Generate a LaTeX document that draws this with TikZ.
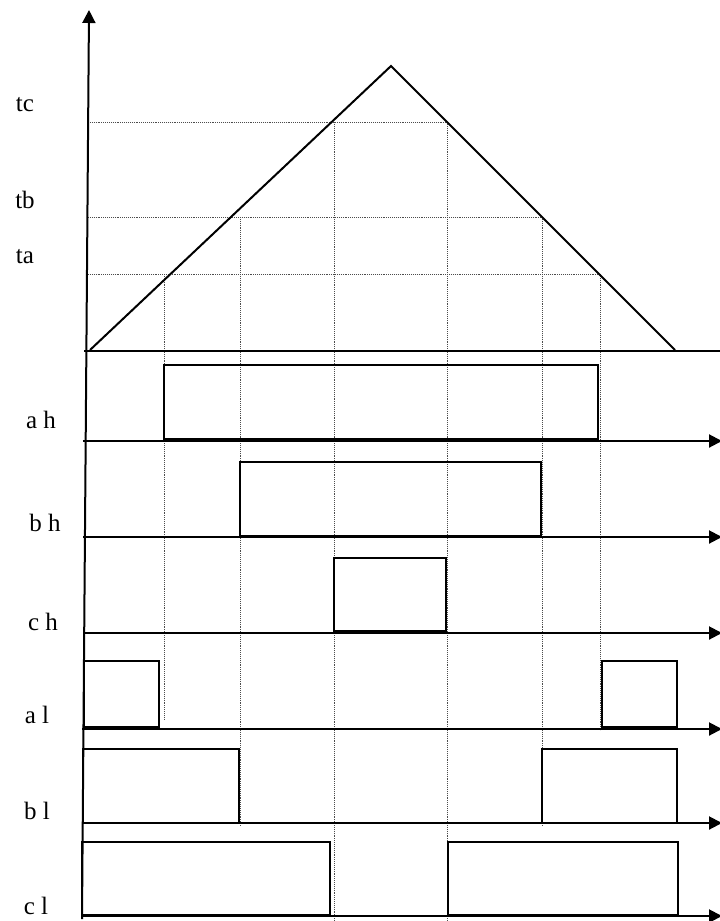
\documentclass[tikz,border=0pt]{standalone}
\usepackage{fontspec}
\setmainfont{Liberation Serif}
\usetikzlibrary{arrows.meta}

\begin{document}
\begin{tikzpicture}[x=1pt,y=-1pt,line width=2pt,
    axis/.style={-{Triangle[length=13pt,width=13pt]}},
    guide/.style={densely dotted,line width=0.9pt,black!70},
    lbl/.style={font=\fontsize{25}{28}\selectfont,inner sep=0pt}]
    \useasboundingbox (0,0) rectangle (720,921);

    % Dotted guide lines (levels ta, tb, tc)
    \draw[guide] (88,122) -- (447,122);
    \draw[guide] (88,217) -- (542,217);
    \draw[guide] (88,274) -- (600,274);

    % Dotted guide lines down through the rows
    \draw[guide] (164,274) -- (164,720);
    \draw[guide] (240,217) -- (240,826);
    \draw[guide] (334,122) -- (334,921);
    \draw[guide] (447,122) -- (447,921);
    \draw[guide] (542,217) -- (542,826);
    \draw[guide] (600,274) -- (600,730);

    % Triangle carrier
    \draw[line join=miter] (90,350) -- (391,66) -- (675,350);

    % Axes
    \draw[axis] (82,919) -- (89,10);
    \draw[axis] (84,351) -- (734,351);
    \draw[axis] (83,441) -- (722,441);
    \draw[axis] (83,537) -- (722,537);
    \draw[axis] (83,633) -- (722,633);
    \draw[axis] (82,729) -- (722,729);
    \draw[axis] (82,823) -- (722,823);
    \draw[axis] (82,916) -- (722,916);

    % Pulses, upper switches
    \draw (164,365) rectangle (598,439);
    \draw (240,462) rectangle (541,536);
    \draw (334,558) rectangle (446,631);

    % Pulses, lower switches
    \draw (84,661) rectangle (159,727);
    \draw (602,661) rectangle (677,727);
    \draw (83,749) rectangle (239,823);
    \draw (542,749) rectangle (677,823);
    \draw (82,842) rectangle (330,915);
    \draw (448,842) rectangle (678,915);

    % Labels
    \node[lbl] (tc) at (25,105) {tc};
    \node[lbl] (tb) at (25,200) {tb};
    \node[lbl] (ta) at (25,257) {ta};
    \node[lbl] (ah) at (41,420) {a h};
    \node[lbl] (bh) at (45,523) {b h};
    \node[lbl] (ch) at (43,622) {c h};
    \node[lbl] (al) at (37,715) {a l};
    \node[lbl] (bl) at (37,811) {b l};
    \node[lbl] (cl) at (36,906) {c l};
\end{tikzpicture}
\end{document}
